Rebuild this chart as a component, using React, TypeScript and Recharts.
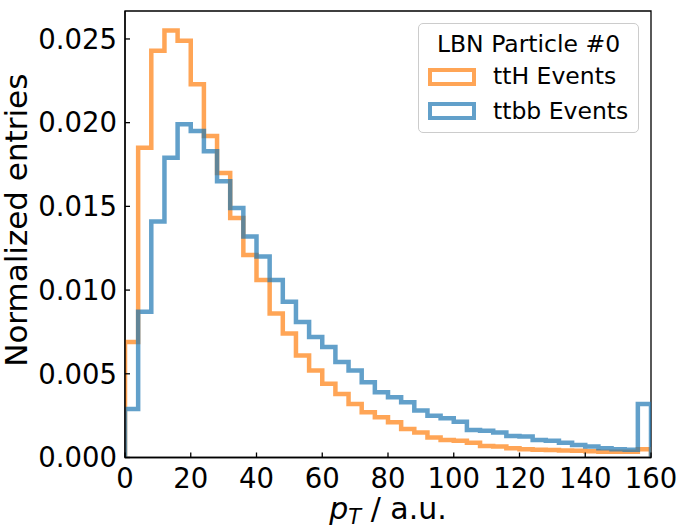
import {
  Label,
  Legend,
  Line,
  LineChart,
  ReferenceArea,
  XAxis,
  YAxis,
} from "recharts";

// bin edges: 0, 4, ..., 156 (width 4), last edge 160
const binStarts = [
  0, 4, 8, 12, 16, 20, 24, 28, 32, 36, 40, 44, 48, 52, 56, 60, 64, 68, 72, 76,
  80, 84, 88, 92, 96, 100, 104, 108, 112, 116, 120, 124, 128, 132, 136, 140,
  144, 148, 152, 156,
];
const lastEdge = 160;

const ttH = [
  0.0069, 0.0185, 0.0243, 0.0255, 0.0249, 0.0223, 0.0192, 0.017, 0.0143,
  0.0121, 0.0106, 0.0086, 0.0074, 0.0061, 0.0052, 0.0044, 0.0038, 0.0032,
  0.0027, 0.0024, 0.0021, 0.0017, 0.0015, 0.0012, 0.00105, 0.001, 0.00088,
  0.00069, 0.00065, 0.00055, 0.0005, 0.00046, 0.00045, 0.00042, 0.0004,
  0.00038, 0.00035, 0.00035, 0.00035, 0.0005,
];

const ttbb = [
  0.0029, 0.0087, 0.0141, 0.0179, 0.0199, 0.0195, 0.0183, 0.0165, 0.0149,
  0.0132, 0.012, 0.0106, 0.0093, 0.0081, 0.0072, 0.0066, 0.0057, 0.0052,
  0.0045, 0.0039, 0.0036, 0.0033, 0.0028, 0.0025, 0.00234, 0.00214, 0.00164,
  0.0016, 0.0015, 0.00128, 0.00125, 0.00105, 0.001, 0.00088, 0.00075,
  0.00065, 0.00055, 0.0005, 0.00046, 0.0032,
];

const xTicks = [0, 20, 40, 60, 80, 100, 120, 140, 160];
const yTicks = [0, 0.005, 0.01, 0.015, 0.02, 0.025];
const yMax = 0.02667;

const legendTitle = "LBN Particle #0";

// step outline like matplotlib histtype="step"
const data = [
  { x: 0, ttH: 0, ttbb: 0 },
  ...binStarts.map((x, i) => ({ x, ttH: ttH[i], ttbb: ttbb[i] })),
  { x: lastEdge, ttH: ttH[ttH.length - 1], ttbb: ttbb[ttbb.length - 1] },
  { x: lastEdge, ttH: 0, ttbb: 0 },
];

const FONT = "DejaVu Sans";

function HistLegend({ payload }: { payload?: any[] }) {
  return (
    <div
      style={{
        width: 221,
        height: 110,
        boxSizing: "border-box",
        border: "1px solid #cccccc",
        borderRadius: 5,
        background: "rgba(255,255,255,0.8)",
        fontFamily: FONT,
        color: "#000",
        position: "relative",
      }}
    >
      <div
        style={{
          position: "absolute",
          top: 5,
          left: 0,
          width: "100%",
          textAlign: "center",
          fontSize: 23.5,
          lineHeight: "30px",
        }}
      >
        {legendTitle}
      </div>
      {(payload ?? []).map((p, i) => (
        <div key={p.value}>
          <div
            style={{
              position: "absolute",
              left: 9,
              top: 44 + i * 34,
              width: 48,
              height: 18,
              boxSizing: "border-box",
              border: `4px solid ${p.color}`,
              opacity: 0.7,
            }}
          />
          <div
            style={{
              position: "absolute",
              left: 74,
              top: 37 + i * 35,
              fontSize: 23.5,
              lineHeight: "30px",
              whiteSpace: "nowrap",
            }}
          >
            {p.value}
          </div>
        </div>
      ))}
    </div>
  );
}

export default function App() {
  return (
    <div
      style={{
        position: "absolute",
        left: 0,
        top: 0,
        width: 678,
        height: 532,
        background: "#fff",
      }}
    >
      <LineChart
        width={678}
        height={532}
        data={data}
        margin={{ top: 11, right: 27, left: 0, bottom: 0 }}
      >
        <XAxis
          dataKey="x"
          type="number"
          domain={[0, 160]}
          ticks={xTicks}
          allowDataOverflow
          height={74.5}
          tickSize={-5}
          tickMargin={16}
          tick={{ fontSize: 27.5, fill: "#000", fontFamily: FONT }}
          tickLine={{ stroke: "#000", strokeWidth: 1.3 }}
          axisLine={{ stroke: "#000", strokeWidth: 1.3 }}
          interval={0}
        >
          <Label
            content={({ viewBox }: any) => (
              <text
                x={viewBox.x + viewBox.width / 2}
                y={519}
                textAnchor="middle"
                fontFamily={FONT}
                fontSize={30}
                fill="#000"
              >
                <tspan fontStyle="italic">p</tspan>
                <tspan fontStyle="italic" fontSize={21} dy={5}>
                  T
                </tspan>
                <tspan dy={-5}> / a.u.</tspan>
              </text>
            )}
          />
        </XAxis>
        <YAxis
          type="number"
          domain={[0, yMax]}
          ticks={yTicks}
          allowDataOverflow
          width={125}
          tickSize={-5}
          tickMargin={13}
          tickFormatter={(v: number) => v.toFixed(3)}
          tick={{ fontSize: 27.5, fill: "#000", fontFamily: FONT }}
          tickLine={{ stroke: "#000", strokeWidth: 1.3 }}
          axisLine={{ stroke: "#000", strokeWidth: 1.3 }}
          interval={0}
        >
          <Label
            content={({ viewBox }: any) => (
              <text
                transform={`translate(27, ${viewBox.y + viewBox.height / 2 - 14}) rotate(-90)`}
                textAnchor="middle"
                fontFamily={FONT}
                fontSize={31}
                fill="#000"
              >
                Normalized entries
              </text>
            )}
          />
        </YAxis>
        <ReferenceArea
          x1={0}
          x2={160}
          y1={0}
          y2={yMax}
          fill="none"
          stroke="#000"
          strokeWidth={1.3}
          ifOverflow="visible"
        />
        <Line
          type="stepAfter"
          dataKey="ttH"
          name="ttH Events"
          stroke="#ff7f0e"
          strokeOpacity={0.7}
          strokeWidth={4.5}
          strokeLinejoin="miter"
          dot={false}
          activeDot={false}
          isAnimationActive={false}
        />
        <Line
          type="stepAfter"
          dataKey="ttbb"
          name="ttbb Events"
          stroke="#1f77b4"
          strokeOpacity={0.7}
          strokeWidth={4.5}
          strokeLinejoin="miter"
          dot={false}
          activeDot={false}
          isAnimationActive={false}
        />
        <Legend
          layout="horizontal"
          verticalAlign="middle"
          content={(props: any) => <HistLegend payload={props.payload} />}
          wrapperStyle={{ left: 418, top: 23, width: 221, height: 110 }}
        />
      </LineChart>
    </div>
  );
}
